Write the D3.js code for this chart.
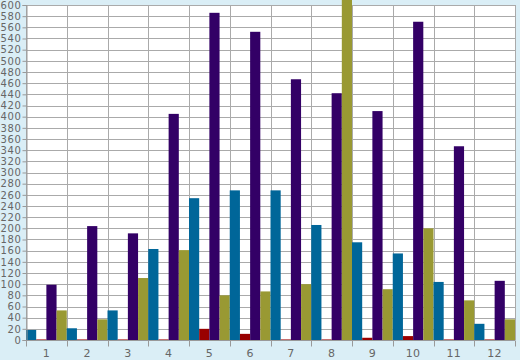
<!DOCTYPE html>
<html><head><meta charset="utf-8">
<script src="https://cdn.jsdelivr.net/npm/d3@7"></script>
<style>html,body{margin:0;padding:0;background:#daeef6;}svg{display:block;}</style>
</head><body>
<script>
const categories = ["1","2","3","4","5","6","7","8","9","10","11","12"];
const seriesNames = ["blue","red","purple","olive"];
const blueValues   = [18, 21, 53, 163, 254, 268, 268, 206, 175, 155, 104, 29];
const redValues    = [1, 1, 1, 1, 20, 11, 1, 1, 4, 7, 1, 1];
const purpleValues = [99, 204, 191, 405, 586, 552, 467, 442, 410, 570, 347, 106];
const oliveValues  = [53, 37, 111, 161, 80, 87, 100, 650, 91, 200, 71, 37];
const yTicks = d3.range(0, 601, 20);
const colors = ["#006699", "#990000", "#330066", "#999933"];

const W = 520, H = 360;
const m = {left: 26, top: 5, right: 5, bottom: 20};
const svg = d3.select("body").append("svg").attr("width", W).attr("height", H);
svg.append("rect").attr("width", W).attr("height", H).attr("fill", "#daeef6");

const x = d3.scaleBand().domain(categories).range([m.left, W - m.right]).padding(0);
const xs = d3.scaleBand().domain(seriesNames).range([0, x.bandwidth()]).padding(0);
const y = d3.scaleLinear().domain([0, 600]).range([H - m.bottom, m.top]);

svg.append("rect").attr("x", m.left).attr("y", m.top)
  .attr("width", W - m.left - m.right).attr("height", H - m.top - m.bottom).attr("fill", "#fff");

// horizontal grid
svg.append("g").selectAll("line").data(yTicks).join("line")
  .attr("x1", m.left).attr("x2", W - m.right)
  .attr("y1", d => Math.round(y(d)) + 0.5).attr("y2", d => Math.round(y(d)) + 0.5)
  .attr("stroke", "#aaaaaa");
// vertical grid at category boundaries
const bounds = categories.map(c => x(c)).concat([W - m.right]);
svg.append("g").selectAll("line").data(bounds).join("line")
  .attr("x1", d => Math.round(d) + 0.5).attr("x2", d => Math.round(d) + 0.5)
  .attr("y1", m.top).attr("y2", H - m.bottom)
  .attr("stroke", "#aaaaaa");

const series = [blueValues, redValues, purpleValues, oliveValues];
const bars = [];
categories.forEach((c, i) => series.forEach((vals, s) => bars.push({c, s, v: vals[i]})));
svg.append("g").selectAll("rect").data(bars).join("rect")
  .attr("x", d => x(d.c) + xs(seriesNames[d.s]))
  .attr("width", xs.bandwidth())
  .attr("y", d => y(d.v))
  .attr("height", d => y(0) - y(d.v))
  .attr("fill", d => colors[d.s]);

// y axis
const yAxis = svg.append("g").attr("transform", `translate(${m.left + 0.5},0)`)
  .call(d3.axisLeft(y).tickValues(yTicks).tickSize(4).tickPadding(1));
yAxis.select(".domain").attr("stroke", "#999");
yAxis.selectAll(".tick line").attr("stroke", "#999");
yAxis.selectAll("text").attr("fill", "#666").style("font-family", "DejaVu Sans")
  .style("font-size", "10px").style("letter-spacing", "0.6px");

// x axis
const xAxis = svg.append("g").attr("transform", `translate(0,${H - m.bottom + 0.5})`);
xAxis.append("line").attr("x1", m.left).attr("x2", W - m.right).attr("stroke", "#999");
xAxis.selectAll("line.tk").data(bounds).join("line").attr("class", "tk")
  .attr("x1", d => Math.round(d) + 0.5).attr("x2", d => Math.round(d) + 0.5)
  .attr("y1", 0).attr("y2", 6).attr("stroke", "#999");
xAxis.selectAll("text").data(categories).join("text")
  .attr("x", d => x(d) + x.bandwidth() / 2).attr("y", 16)
  .attr("text-anchor", "middle").attr("fill", "#666")
  .style("font-family", "DejaVu Sans").style("font-size", "11px").style("letter-spacing", "0.5px")
  .text(d => d);
</script>
</body></html>
